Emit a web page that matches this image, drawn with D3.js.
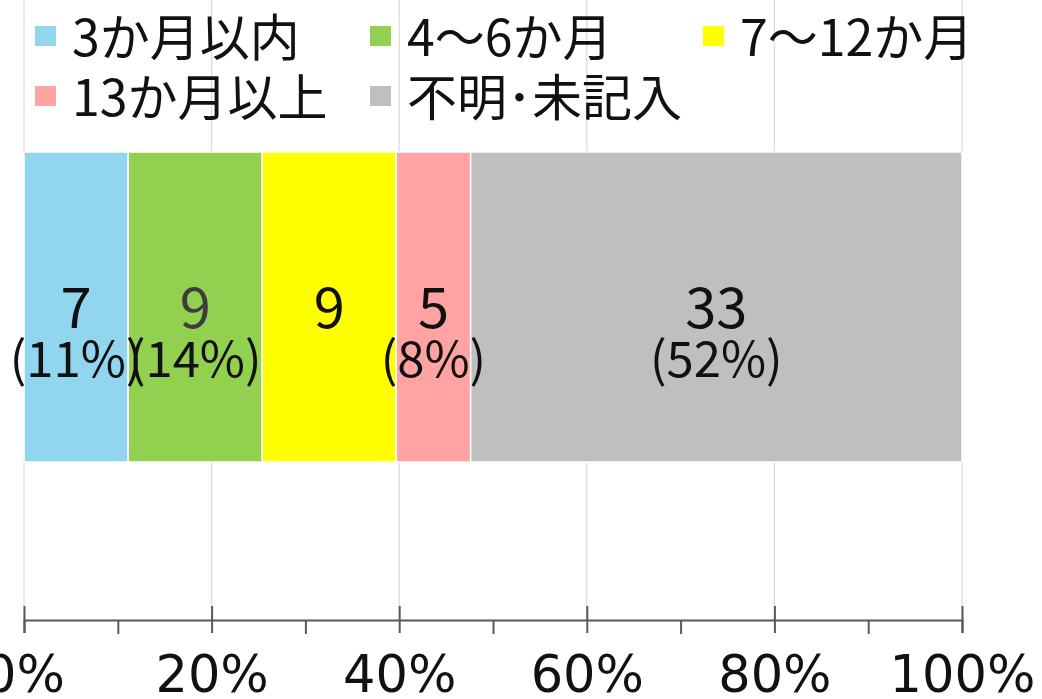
<!DOCTYPE html>
<html>
<head>
<meta charset="utf-8">
<script src="https://cdn.jsdelivr.net/npm/d3@7"></script>
<style>
  body { margin: 0; background: #fff; }
  svg { display: block; }
</style>
</head>
<body>
<svg id="chart" width="1042" height="699"></svg>
<script>
// data
var categories = ["3か月以内", "4～6か月", "7～12か月", "13か月以上", "不明･未記入"];
var counts = [7, 9, 9, 5, 33];
var pctLabels = ["(11%)", "(14%)", "", "(8%)", "(52%)"];
var majorTicks = [0, 20, 40, 60, 80, 100];
var minorTicks = [10, 30, 50, 70, 90];
var colors = ["#92d5ee", "#92d050", "#ffff00", "#ffa3a3", "#bfbfbf"];
var labelColors = ["#111", "#3d3d3d", "#111", "#111", "#111"];

var jpFont = "'Noto Sans CJK JP', 'Noto Sans', sans-serif";

var svg = d3.select("#chart");
var total = d3.sum(counts);

var x = d3.scaleLinear().domain([0, 100]).range([24, 962]);
var y = d3.scaleBand().domain(["all"]).range([152, 462]).padding(0);
var axisY = 620;

// stacked segments
var stack = [];
var acc = 0;
counts.forEach(function(c, i) {
    var start = acc / total * 100;
    acc += c;
    stack.push({ i: i, start: start, end: acc / total * 100, count: c });
});

// gridlines
svg.append("g")
  .selectAll("line")
  .data(majorTicks)
  .join("line")
    .attr("x1", function(d) { return x(d); })
    .attr("x2", function(d) { return x(d); })
    .attr("y1", 0)
    .attr("y2", axisY)
    .attr("stroke", "#d9d9d9")
    .attr("stroke-width", 1.2);

// legend
var legendPos = [[35, 0], [370, 0], [703, 0], [35, 1], [370, 1]];
var legend = svg.append("g")
  .selectAll("g")
  .data(categories)
  .join("g")
    .attr("transform", function(d, i) {
        return "translate(" + legendPos[i][0] + "," + (legendPos[i][1] * 60) + ")";
    });
legend.append("rect")
    .attr("x", 0)
    .attr("y", 26)
    .attr("width", 21)
    .attr("height", 20)
    .attr("fill", function(d, i) { return colors[i]; });
legend.append("text")
    .attr("x", 37)
    .attr("y", 56)
    .attr("font-family", jpFont)
    .attr("font-size", 50)
    .attr("fill", "#111")
    .text(function(d) { return d; });

// bar
var bars = svg.append("g");
bars.selectAll("rect")
  .data(stack)
  .join("rect")
    .attr("x", function(d) { return x(d.start); })
    .attr("y", y("all"))
    .attr("width", function(d) { return x(d.end) - x(d.start); })
    .attr("height", y.bandwidth())
    .attr("fill", function(d) { return colors[d.i]; })
    .attr("stroke", "#fff")
    .attr("stroke-width", 1.5);

// value labels
var labels = svg.append("g")
  .selectAll("g")
  .data(stack)
  .join("g")
    .attr("transform", function(d) { return "translate(" + x((d.start + d.end) / 2) + ",0)"; });
labels.append("text")
    .attr("y", 328)
    .attr("text-anchor", "middle")
    .attr("font-family", jpFont)
    .attr("font-size", 56)
    .attr("fill", function(d) { return labelColors[d.i]; })
    .text(function(d) { return d.count; });
labels.append("text")
    .attr("y", 377)
    .attr("text-anchor", "middle")
    .attr("font-family", jpFont)
    .attr("font-size", 49)
    .attr("fill", "#111")
    .text(function(d) { return pctLabels[d.i]; });

// x axis
var axis = svg.append("g")
    .attr("transform", "translate(0," + axisY + ")")
    .call(d3.axisBottom(x)
        .tickValues(majorTicks)
        .tickSize(13)
        .tickPadding(23)
        .tickFormat(function(d) { return d + "%"; }));
axis.select(".domain").attr("stroke", "#595959").attr("stroke-width", 2);
axis.selectAll(".tick line")
    .attr("y1", -14)
    .attr("stroke", "#595959")
    .attr("stroke-width", 2);
axis.selectAll(".tick text")
    .attr("font-family", "'DejaVu Sans', sans-serif")
    .attr("font-size", 51)
    .attr("fill", "#111")
    .attr("dy", "0.71em");

var minor = svg.append("g")
    .attr("transform", "translate(0," + axisY + ")")
    .call(d3.axisBottom(x).tickValues(minorTicks).tickSize(14).tickFormat(""));
minor.select(".domain").remove();
minor.selectAll(".tick line").attr("stroke", "#595959").attr("stroke-width", 2);
</script>
</body>
</html>
